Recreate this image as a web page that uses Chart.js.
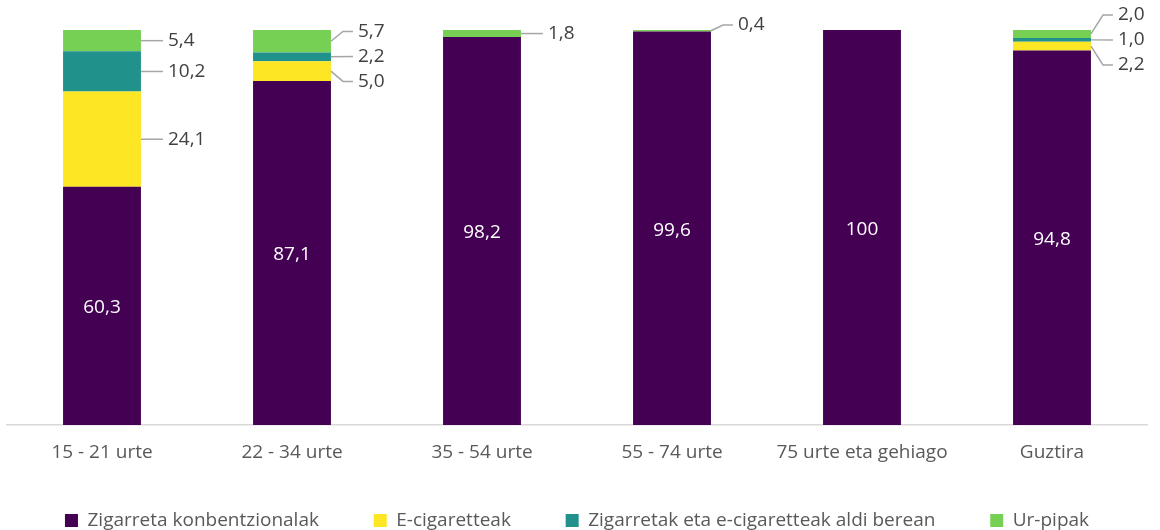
<!DOCTYPE html>
<html>
<head>
<meta charset="utf-8">
<script src="https://cdn.jsdelivr.net/npm/chart.js@4.4.1/dist/chart.umd.min.js"></script>
<style>
  html, body { margin: 0; padding: 0; background: #fff; overflow: hidden; }
  #wrap { width: 1160px; height: 540px; position: relative; }
</style>
</head>
<body>
<div id="wrap"><canvas id="c"></canvas></div>
<script>
const categories = ['15 - 21 urte', '22 - 34 urte', '35 - 54 urte', '55 - 74 urte', '75 urte eta gehiago', 'Guztira'];
const seriesNames = ['Zigarreta konbentzionalak', 'E-cigaretteak', 'Zigarretak eta e-cigaretteak aldi berean', 'Ur-pipak'];
const konbentzionalak = [60.3, 87.1, 98.2, 99.6, 100, 94.8];
const eCigaretteak = [24.1, 5.0, null, null, null, 2.2];
const aldiBerean = [10.2, 2.2, null, null, null, 1.0];
const urPipak = [5.4, 5.7, 1.8, 0.4, null, 2.0];
const colors = ['#440154', '#FDE725', '#21918C', '#75D054'];

const FONT = '"Open Sans", sans-serif';
const fmt = v => v >= 100 ? String(v) : v.toFixed(1).replace('.', ',');

const labelPlugin = {
  id: 'segLabels',
  afterDatasetsDraw(chart) {
    const ctx = chart.ctx;
    ctx.save();
    ctx.font = '19px ' + FONT;
    ctx.textBaseline = 'middle';
    const n = chart.data.labels.length;
    for (let i = 0; i < n; i++) {
      const ext = [];
      chart.data.datasets.forEach((ds, di) => {
        const v = ds.data[i];
        if (v == null || v === 0) return;
        const el = chart.getDatasetMeta(di).data[i];
        const top = Math.min(el.y, el.base), bot = Math.max(el.y, el.base);
        const mid = (top + bot) / 2;
        const right = el.x + el.width / 2;
        if (di === 0) {
          ctx.fillStyle = '#ffffff';
          ctx.textAlign = 'center';
          ctx.fillText(fmt(v), el.x, mid + 2);
        } else {
          let t = mid;
          if (bot - top < 3) t = top - 5;
          ext.push({ v, mid, t, right, di });
        }
      });
      ext.sort((a, b) => a.t - b.t);
      const gap = 25;
      let clusters = ext.map(e => ({ items: [e], c: e.t }));
      let changed = true;
      while (changed) {
        changed = false;
        for (let k = 0; k < clusters.length - 1; k++) {
          const A = clusters[k], B = clusters[k + 1];
          const aEnd = A.c + (A.items.length - 1) * gap / 2;
          const bStart = B.c - (B.items.length - 1) * gap / 2;
          if (bStart - aEnd < gap) {
            const items = A.items.concat(B.items);
            const c = items.reduce((s, e) => s + e.t, 0) / items.length;
            clusters.splice(k, 2, { items, c });
            changed = true;
            break;
          }
        }
      }
      clusters.forEach(cl => {
        cl.items.forEach((e, j) => {
          e.y = cl.c + (j - (cl.items.length - 1) / 2) * gap;
        });
      });
      ext.forEach(e => {
        ctx.strokeStyle = '#A6A6A6';
        ctx.lineWidth = 1.5;
        ctx.beginPath();
        ctx.moveTo(e.right, e.mid);
        if (Math.abs(e.y - e.mid) > 1) {
          ctx.lineTo(e.right + 12, e.y);
        }
        ctx.lineTo(e.right + 22, e.y);
        ctx.stroke();
        ctx.fillStyle = '#404040';
        ctx.textAlign = 'left';
        ctx.fillText(fmt(e.v), e.right + 27, e.y);
      });
    }
    ctx.restore();
  }
};

const seriesData = [konbentzionalak, eCigaretteak, aldiBerean, urPipak];

new Chart(document.getElementById('c'), {
  type: 'bar',
  data: {
    labels: categories,
    datasets: seriesNames.map((name, k) => ({
      label: name,
      data: seriesData[k],
      backgroundColor: colors[k],
      borderWidth: 0,
      categoryPercentage: 1,
      barPercentage: 0.41
    }))
  },
  options: {
    responsive: true,
    maintainAspectRatio: false,
    animation: false,
    layout: { padding: { top: 30, left: 7, right: 13, bottom: 0 } },
    scales: {
      x: {
        stacked: true,
        grid: { display: true, drawOnChartArea: false, drawTicks: false, color: 'transparent' },
        border: { display: true, color: '#D9D9D9', width: 1.5 },
        ticks: { color: '#595959', font: { family: FONT, size: 19 }, padding: 16 },
        afterFit: s => { s.height = 46; }
      },
      y: {
        stacked: true,
        min: 0,
        max: 100,
        display: false
      }
    },
    plugins: {
      legend: {
        position: 'bottom',
        labels: {
          color: '#595959',
          font: { family: FONT, size: 19 },
          boxWidth: 13,
          boxHeight: 13,
          padding: 40,
          generateLabels: chart => {
            const items = Chart.defaults.plugins.legend.labels.generateLabels(chart);
            items.forEach((it, idx) => {
              if (idx < items.length - 1) it.text = it.text + '\u00A0\u00A0\u00A0';
            });
            return items;
          }
        }
      },
      tooltip: { enabled: false }
    }
  },
  plugins: [labelPlugin]
});
</script>
</body>
</html>
